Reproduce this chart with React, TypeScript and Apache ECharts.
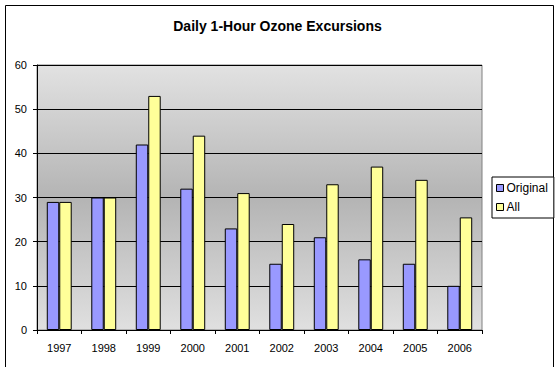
import React, { useEffect, useRef } from "react";
import * as echarts from "echarts";

const categories = ["1997", "1998", "1999", "2000", "2001", "2002", "2003", "2004", "2005", "2006"];
const originalValues = [29, 30, 42, 32, 23, 15, 21, 16, 15, 10];
const allValues = [29, 30, 53, 44, 31, 24, 33, 37, 34, 25.5];
const yTicks = [0, 10, 20, 30, 40, 50, 60];

const FONT = 'Arial, "Liberation Sans", sans-serif';

export default function App() {
  const ref = useRef<HTMLDivElement>(null);
  useEffect(() => {
    if (!ref.current) return;
    const chart = echarts.init(ref.current, null, { renderer: "svg" });
    chart.setOption({
      animation: false,
      backgroundColor: "#ffffff",
      title: {
        text: "Daily 1-Hour Ozone Excursions",
        left: "center",
        top: 14,
        textStyle: { fontFamily: FONT, fontSize: 14, fontWeight: "bold", color: "#000" },
      },
      graphic: [
        {
          type: "rect",
          shape: { x: 5.5, y: 5.5, width: 548, height: 380 },
          style: { fill: "none", stroke: "#000", lineWidth: 1 },
          silent: true,
        },
      ],
      legend: {
        orient: "vertical",
        left: 492,
        top: 177,
        width: 57,
        padding: [5, 6, 5, 4],
        itemGap: 7,
        itemWidth: 7,
        itemHeight: 7,
        borderColor: "#000",
        borderWidth: 1,
        backgroundColor: "#fff",
        icon: "rect",
        itemStyle: { borderColor: "#000", borderWidth: 1 },
        textStyle: { fontFamily: FONT, fontSize: 12, color: "#000", padding: [0, 0, 0, -2] },
        data: ["Original", "All"],
      },
      grid: {
        left: 37,
        right: 73,
        top: 65,
        bottom: 37,
        show: true,
        borderColor: "#808080",
        borderWidth: 1,
        backgroundColor: new echarts.graphic.LinearGradient(0, 0, 0, 1, [
          { offset: 0, color: "#e2e2e2" },
          { offset: 0.5, color: "#b4b4b4" },
          { offset: 1, color: "#e0e0e0" },
        ]),
      },
      xAxis: {
        type: "category",
        data: categories,
        axisLine: { lineStyle: { color: "#000", width: 1 } },
        axisTick: { show: true, alignWithLabel: false, length: 4, lineStyle: { color: "#000" } },
        axisLabel: { fontFamily: FONT, fontSize: 11, color: "#000", margin: 12 },
      },
      yAxis: {
        type: "value",
        min: yTicks[0],
        max: yTicks[yTicks.length - 1],
        interval: 10,
        axisLine: { show: true, lineStyle: { color: "#000", width: 1 } },
        axisTick: { show: true, length: 4, lineStyle: { color: "#000" } },
        splitLine: { show: true, lineStyle: { color: "#000", width: 1 } },
        axisLabel: { fontFamily: FONT, fontSize: 11, color: "#000", margin: 10 },
      },
      series: [
        {
          name: "Original",
          type: "bar",
          data: originalValues,
          barGap: "0%",
          barCategoryGap: "44%",
          itemStyle: { color: "#9999ff", borderColor: "#000", borderWidth: 1 },
        },
        {
          name: "All",
          type: "bar",
          data: allValues,
          barGap: "0%",
          barCategoryGap: "44%",
          itemStyle: { color: "#ffff99", borderColor: "#000", borderWidth: 1 },
        },
      ],
    });
    return () => chart.dispose();
  }, []);
  return (
    <div
      ref={ref}
      style={{ position: "fixed", left: 0, top: 0, width: 555, height: 367 }}
    />
  );
}
